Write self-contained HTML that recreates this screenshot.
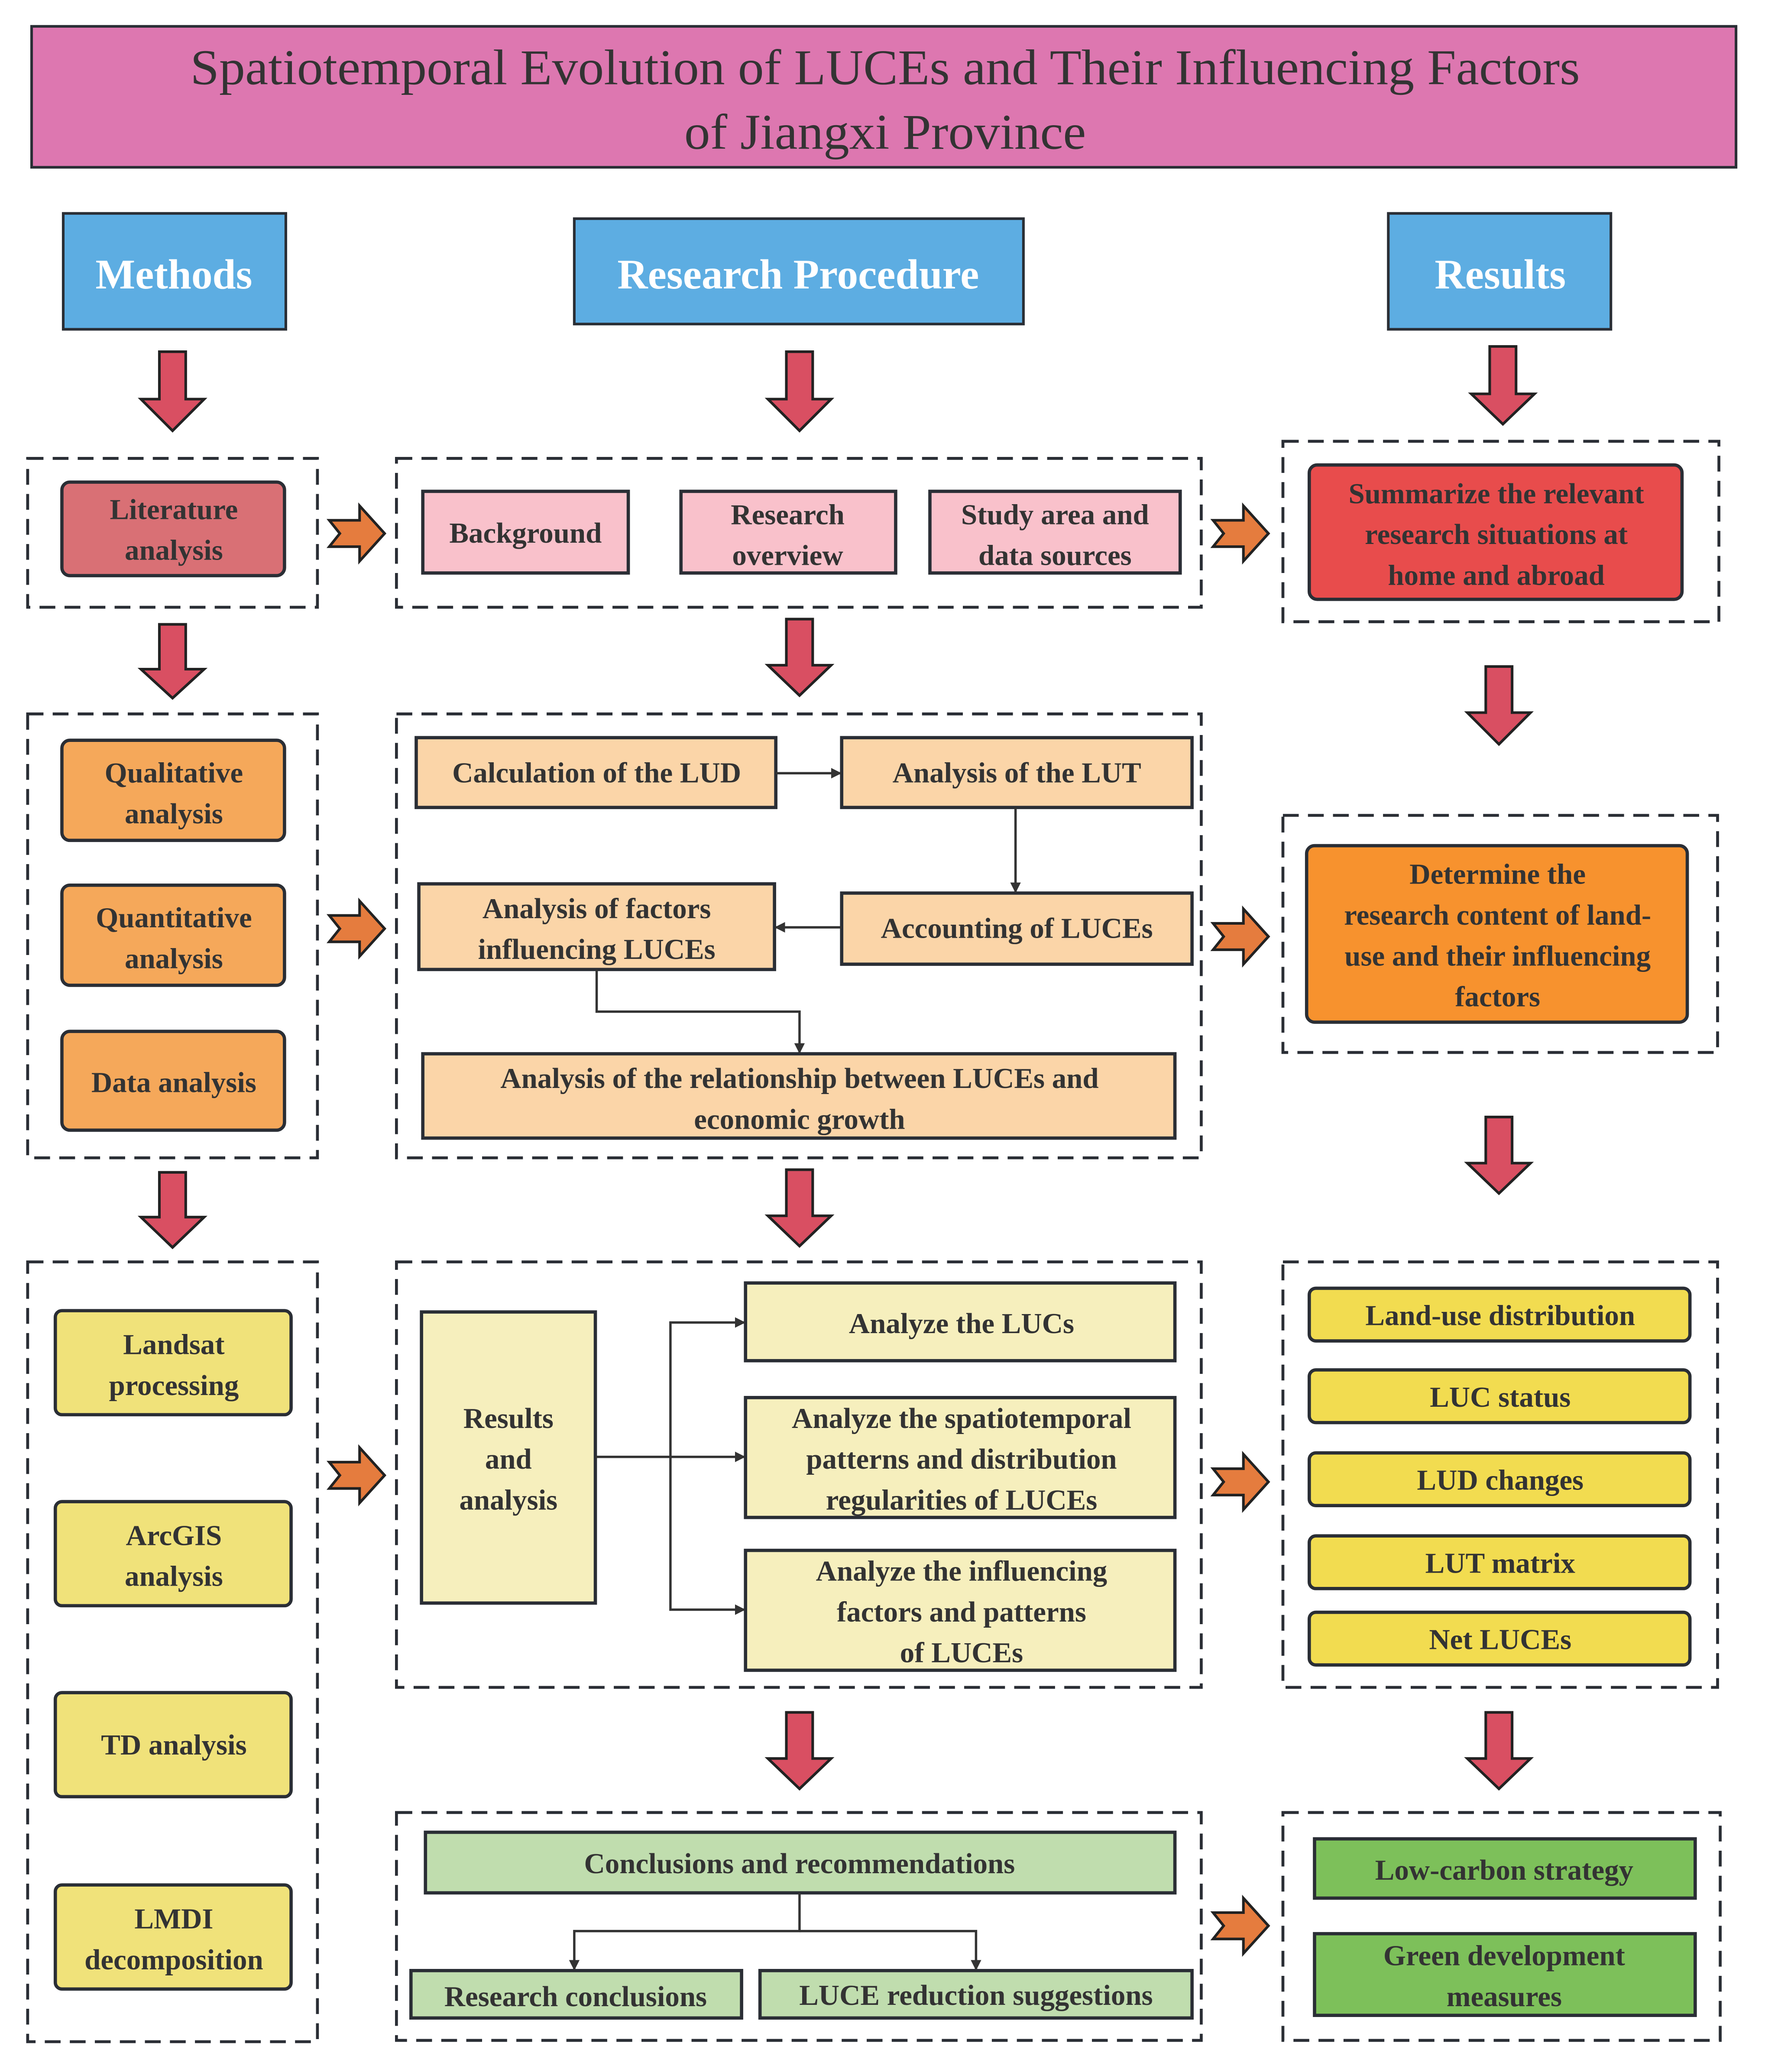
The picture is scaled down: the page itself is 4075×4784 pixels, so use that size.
<!DOCTYPE html>
<html><head><meta charset="utf-8"><style>html,body{margin:0;padding:0;background:#fff}svg{display:block}</style></head>
<body>
<svg xmlns="http://www.w3.org/2000/svg" width="4075" height="4784" viewBox="0 0 1340 1573" preserveAspectRatio="none" font-family="'Liberation Serif', serif">
<defs>
<marker id="ah" markerWidth="8" markerHeight="8" refX="7" refY="4" orient="auto" markerUnits="userSpaceOnUse"><path d="M0,0 L8,4 L0,8 Z" fill="#333"/></marker>
</defs>
<g stroke="#2a2e35" stroke-width="2">
<rect x="24" y="20" width="1294" height="107" fill="#dd77b0"/>
<rect x="48" y="162" width="169" height="88" fill="#5dade2"/>
<rect x="436" y="166" width="341" height="80" fill="#5dade2"/>
<rect x="1054" y="162" width="169" height="88" fill="#5dade2"/>
</g>
<g font-weight="bold" fill="#fff" font-size="32" text-anchor="middle">
<text x="132" y="219">Methods</text>
<text x="606" y="219">Research Procedure</text>
<text x="1139" y="219">Results</text>
</g>
<g fill="#333" font-size="38" text-anchor="middle">
<text x="672" y="64" textLength="1055" lengthAdjust="spacingAndGlyphs">Spatiotemporal Evolution of LUCEs and Their Influencing Factors</text>
<text x="672" y="113" textLength="305" lengthAdjust="spacingAndGlyphs">of Jiangxi Province</text>
</g>
<g fill="none" stroke="#2a2e35" stroke-width="2.2" stroke-dasharray="12,7">
<rect x="21" y="348" width="220" height="113"/>
<rect x="301" y="348" width="611" height="113"/>
<rect x="974" y="335" width="331" height="137"/>
<rect x="21" y="542" width="220" height="337"/>
<rect x="301" y="542" width="611" height="337"/>
<rect x="974" y="619" width="330" height="180"/>
<rect x="21" y="958" width="220" height="592"/>
<rect x="301" y="958" width="611" height="323"/>
<rect x="974" y="958" width="330" height="323"/>
<rect x="301" y="1376" width="611" height="173"/>
<rect x="974" y="1376" width="332" height="173"/>
</g>
<g fill="#d94f62" stroke="#222" stroke-width="2">
<path d="M121 267H141V303H155L131 327L107 303H121Z"/>
<path d="M597 267H617V303H631L607 327L583 303H597Z"/>
<path d="M1131 263H1151V299H1165L1141 322L1117 299H1131Z"/>
<path d="M121 474H141V508H155L131 530L107 508H121Z"/>
<path d="M597 470H617V505H631L607 528L583 505H597Z"/>
<path d="M1128 506H1148V541H1162L1138 565L1114 541H1128Z"/>
<path d="M121 890H141V924H155L131 947L107 924H121Z"/>
<path d="M597 888H617V923H631L607 946L583 923H597Z"/>
<path d="M1128 848H1148V883H1162L1138 906L1114 883H1128Z"/>
<path d="M597 1300H617V1335H631L607 1358L583 1335H597Z"/>
<path d="M1128 1300H1148V1335H1162L1138 1358L1114 1335H1128Z"/>
</g>
<g fill="#e57c3e" stroke="#222" stroke-width="2">
<path d="M250 395H273V384L292 405L273 426V415H250L258 405Z"/>
<path d="M921 395H944V384L963 405L944 426V415H921L929 405Z"/>
<path d="M250 695H273V684L292 705L273 726V715H250L258 705Z"/>
<path d="M921 701H944V690L963 711L944 732V721H921L929 711Z"/>
<path d="M250 1110H273V1099L292 1120L273 1141V1130H250L258 1120Z"/>
<path d="M921 1115H944V1104L963 1125L944 1146V1135H921L929 1125Z"/>
<path d="M921 1452H944V1441L963 1462L944 1483V1472H921L929 1462Z"/>
</g>
<g stroke="#2a2e35" stroke-width="2.5">
<rect x="47" y="366" width="169" height="71" rx="6" fill="#d97075"/>
<rect x="321" y="373" width="156" height="62" fill="#f9c1cb"/>
<rect x="517" y="373" width="163" height="62" fill="#f9c1cb"/>
<rect x="706" y="373" width="190" height="62" fill="#f9c1cb"/>
<rect x="994" y="353" width="283" height="102" rx="6" fill="#e84c4c"/>
<rect x="47" y="562" width="169" height="76" rx="6" fill="#f5a85a"/>
<rect x="47" y="672" width="169" height="76" rx="6" fill="#f5a85a"/>
<rect x="47" y="783" width="169" height="75" rx="6" fill="#f5a85a"/>
<rect x="316" y="560" width="273" height="53" fill="#fbd5a8"/>
<rect x="639" y="560" width="266" height="53" fill="#fbd5a8"/>
<rect x="318" y="671" width="270" height="65" fill="#fbd5a8"/>
<rect x="639" y="678" width="266" height="54" fill="#fbd5a8"/>
<rect x="321" y="800" width="571" height="64" fill="#fbd5a8"/>
<rect x="992" y="642" width="289" height="134" rx="6" fill="#f7922e"/>
<rect x="42" y="995" width="179" height="79" rx="5" fill="#f0e27a"/>
<rect x="42" y="1140" width="179" height="79" rx="5" fill="#f0e27a"/>
<rect x="42" y="1285" width="179" height="79" rx="5" fill="#f0e27a"/>
<rect x="42" y="1431" width="179" height="79" rx="5" fill="#f0e27a"/>
<rect x="320" y="996" width="132" height="221" fill="#f6efbd"/>
<rect x="566" y="974" width="326" height="59" fill="#f6efbd"/>
<rect x="566" y="1061" width="326" height="91" fill="#f6efbd"/>
<rect x="566" y="1177" width="326" height="91" fill="#f6efbd"/>
<rect x="994" y="978" width="289" height="40" rx="5" fill="#f2dc50"/>
<rect x="994" y="1040" width="289" height="40" rx="5" fill="#f2dc50"/>
<rect x="994" y="1103" width="289" height="40" rx="5" fill="#f2dc50"/>
<rect x="994" y="1166" width="289" height="40" rx="5" fill="#f2dc50"/>
<rect x="994" y="1224" width="289" height="40" rx="5" fill="#f2dc50"/>
<rect x="323" y="1391" width="569" height="46" fill="#c0ddae"/>
<rect x="312" y="1496" width="251" height="36" fill="#c0ddae"/>
<rect x="577" y="1496" width="328" height="36" fill="#c0ddae"/>
<rect x="998" y="1396" width="289" height="45" fill="#7dc05a"/>
<rect x="998" y="1468" width="289" height="62" fill="#7dc05a"/>
</g>
<g fill="none" stroke="#333" stroke-width="1.8" marker-end="url(#ah)">
<path d="M589 587H638"/>
<path d="M771 613V677"/>
<path d="M639 704H589"/>
<path d="M453 736V768H607V799"/>
<path d="M452 1106H509V1004H565"/>
<path d="M509 1106H565"/>
<path d="M509 1106V1222H565"/>
<path d="M607 1437V1466H436V1495"/>
<path d="M607 1466H741V1495"/>
</g>
<g font-weight="bold" fill="#333" font-size="22" text-anchor="middle">
<text x="132" y="394">Literature</text><text x="132" y="425">analysis</text>
<text x="399" y="412">Background</text>
<text x="598" y="398">Research</text><text x="598" y="429">overview</text>
<text x="801" y="398">Study area and</text><text x="801" y="429">data sources</text>
<text x="1136" y="382">Summarize the relevant</text><text x="1136" y="413">research situations at</text><text x="1136" y="444">home and abroad</text>
<text x="132" y="594">Qualitative</text><text x="132" y="625">analysis</text>
<text x="132" y="704">Quantitative</text><text x="132" y="735">analysis</text>
<text x="132" y="829">Data analysis</text>
<text x="453" y="594">Calculation of the LUD</text>
<text x="772" y="594">Analysis of the LUT</text>
<text x="453" y="697">Analysis of factors</text><text x="453" y="728">influencing LUCEs</text>
<text x="772" y="712">Accounting of LUCEs</text>
<text x="607" y="826">Analysis of the relationship between LUCEs and</text><text x="607" y="857">economic growth</text>
<text x="1137" y="671">Determine the</text><text x="1137" y="702">research content of land-</text><text x="1137" y="733">use and their influencing</text><text x="1137" y="764">factors</text>
<text x="132" y="1028">Landsat</text><text x="132" y="1059">processing</text>
<text x="132" y="1173">ArcGIS</text><text x="132" y="1204">analysis</text>
<text x="132" y="1332">TD analysis</text>
<text x="132" y="1464">LMDI</text><text x="132" y="1495">decomposition</text>
<text x="386" y="1084">Results</text><text x="386" y="1115">and</text><text x="386" y="1146">analysis</text>
<text x="730" y="1012">Analyze the LUCs</text>
<text x="730" y="1084">Analyze the spatiotemporal</text><text x="730" y="1115">patterns and distribution</text><text x="730" y="1146">regularities of LUCEs</text>
<text x="730" y="1200">Analyze the influencing</text><text x="730" y="1231">factors and patterns</text><text x="730" y="1262">of LUCEs</text>
<text x="1139" y="1006">Land-use distribution</text>
<text x="1139" y="1068">LUC status</text>
<text x="1139" y="1131">LUD changes</text>
<text x="1139" y="1194">LUT matrix</text>
<text x="1139" y="1252">Net LUCEs</text>
<text x="607" y="1422">Conclusions and recommendations</text>
<text x="437" y="1523">Research conclusions</text>
<text x="741" y="1522">LUCE reduction suggestions</text>
<text x="1142" y="1427">Low-carbon strategy</text>
<text x="1142" y="1492">Green development</text><text x="1142" y="1523">measures</text>
</g>
</svg>
</body></html>
